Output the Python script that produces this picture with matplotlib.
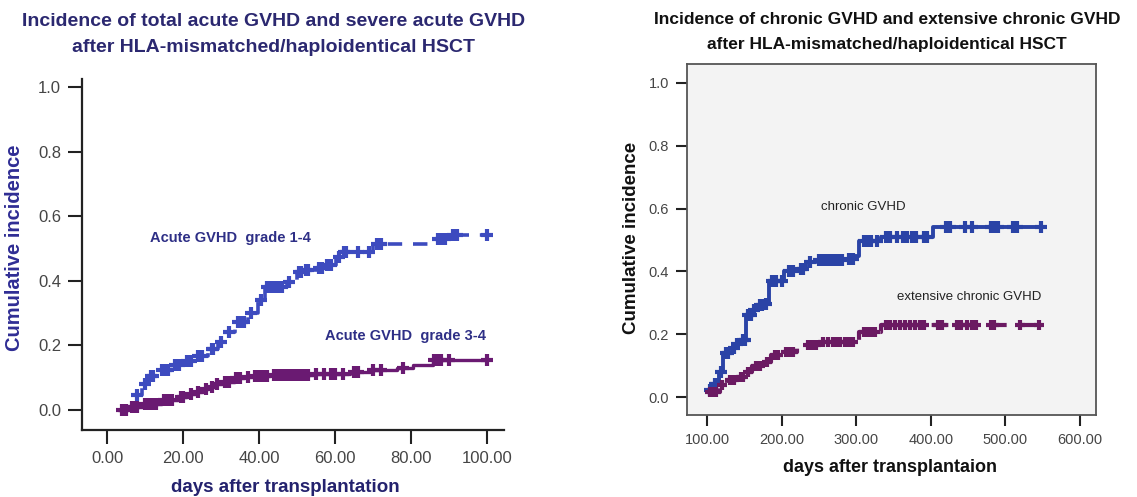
import numpy as np
import matplotlib
matplotlib.use("Agg")
import matplotlib.pyplot as plt

plt.rcParams['font.family'] = ['Liberation Sans', 'DejaVu Sans']

# ---- Acute GVHD (days 0-100) ----
acute_all_days = [4.5, 5.2, 7.4, 9.1, 10.9, 13.9, 17.0, 20.5, 23.2, 26.7, 29.3, 31.1, 33.7,
                  37.2, 39.8, 41.6, 47.3, 49.9, 51.7, 55.2, 57.4, 60.4, 61.8, 70.1, 85.9, 90.3]
acute_all_vals = [0.0, 0.01, 0.045, 0.08, 0.105, 0.125, 0.138, 0.152, 0.168, 0.19, 0.212, 0.24, 0.273,
                  0.30, 0.34, 0.382, 0.397, 0.428, 0.433, 0.439, 0.449, 0.475, 0.49, 0.513, 0.531, 0.542]
acute_all_censor = [8, 10, 11.5, 12, 14.5, 15.5, 16, 18, 19, 21, 22, 24, 25, 27.5, 28, 30, 32,
                    34.5, 35.5, 36, 38, 40.5, 42, 43, 44, 45, 46, 48, 50.5, 51, 52.5, 53, 55.8,
                    56.5, 58, 59, 61, 62.5, 63, 66, 69, 71, 72, 87, 88, 89, 91, 92, 100]

acute_sev_days = [3.0, 5.6, 9.1, 14.4, 18.8, 21.0, 23.2, 25.0, 26.7, 28.5, 30.2, 33.7, 36.0,
                  38.1, 43.0, 54.3, 64.0, 69.2, 76.2, 80.6, 85.9]
acute_sev_vals = [0.0, 0.01, 0.02, 0.03, 0.041, 0.049, 0.057, 0.065, 0.072, 0.08, 0.088, 0.098, 0.102,
                  0.105, 0.108, 0.111, 0.119, 0.124, 0.129, 0.139, 0.155]
acute_sev_censor = [4, 5, 6.5, 7, 8, 10, 11, 12, 13, 15, 16, 17, 19.5, 20, 22, 24, 26, 27.5, 29,
                    31, 32, 34, 35, 37, 39, 40, 41, 42, 44, 45, 46, 47, 48, 49, 50, 51, 52, 53,
                    55, 57, 59, 60, 62, 65, 66, 70, 72, 78, 86, 87, 88, 90, 100]

# ---- Chronic GVHD (days 100-550) ----
chronic_days = [100, 108, 115, 121, 133, 138, 144, 152, 160, 167, 176, 183, 203, 222, 232,
                245, 285, 298, 304, 333, 403]
chronic_vals = [0.022, 0.043, 0.08, 0.139, 0.155, 0.17, 0.181, 0.26, 0.276, 0.292, 0.297, 0.371,
                0.40, 0.408, 0.43, 0.435, 0.44, 0.448, 0.498, 0.509, 0.54]
chronic_censor = [103, 110, 112, 118, 125, 128, 135, 140, 147, 150, 155, 158, 163, 170, 173, 178,
                  186, 189, 192, 200, 210, 215, 225, 228, 238, 250, 255, 260, 265, 270, 275, 280,
                  290, 295, 310, 315, 320, 328, 340, 345, 355, 362, 368, 375, 380, 390, 395, 420,
                  425, 445, 455, 480, 485, 490, 510, 515, 548]

ext_days = [100, 117, 126, 140, 151, 160, 176, 185, 202, 220, 229, 250, 304, 333]
ext_vals = [0.017, 0.038, 0.054, 0.065, 0.08, 0.10, 0.112, 0.133, 0.144, 0.155, 0.165, 0.176,
            0.207, 0.229]
ext_censor = [103, 107, 112, 120, 130, 135, 145, 148, 155, 165, 170, 180, 190, 195, 205, 210, 215,
              235, 240, 245, 255, 262, 268, 272, 278, 285, 290, 295, 310, 315, 320, 325, 340, 345,
              352, 358, 365, 372, 378, 385, 390, 410, 415, 435, 440, 448, 455, 460, 480, 485, 520,
              545]

left_xticks = [0, 20, 40, 60, 80, 100]
right_xticks = [100, 200, 300, 400, 500, 600]
yticks = [0.0, 0.2, 0.4, 0.6, 0.8, 1.0]


def step_curve(ax, days, vals, censor, end_day, color, ls, lw, ms, mew):
    t = np.append(days, end_day)
    v = np.append(vals, vals[-1])
    ax.plot(t, v, drawstyle='steps-post', color=color, lw=lw, ls=ls,
            solid_capstyle='butt', dash_capstyle='butt')
    c = np.asarray(censor, dtype=float)
    idx = np.searchsorted(days, c, side='right') - 1
    cy = np.asarray(vals)[np.clip(idx, 0, None)]
    ax.plot(c, cy, ls='none', marker='+', color=color, ms=ms, mew=mew)


fig = plt.figure(figsize=(11.37, 4.97), dpi=100)
W, H = 1137.0, 497.0

# Left panel
axL = fig.add_axes([82 / W, 1 - 430 / H, (504 - 82) / W, (430 - 79) / H])
axL.set_xlim(-6.6, 104.5)
axL.set_ylim(-0.062, 1.025)
blue_l = '#3d4bbf'
purple_l = '#6a1a72'
step_curve(axL, acute_all_days, acute_all_vals, acute_all_censor, 100, blue_l,
           (0, (4, 3)), 2.6, 8, 3.0)
step_curve(axL, acute_sev_days, acute_sev_vals, acute_sev_censor, 100, purple_l,
           '-', 2.4, 8, 3.0)
for s in ['top', 'right']:
    axL.spines[s].set_visible(False)
for s in ['left', 'bottom']:
    axL.spines[s].set_linewidth(1.6)
    axL.spines[s].set_color('#222222')
axL.set_xticks(left_xticks)
axL.set_xticklabels(['%.2f' % v for v in left_xticks])
axL.set_yticks(yticks)
axL.set_yticklabels(['%.1f' % v for v in yticks])
axL.tick_params(direction='out', length=10, width=1.5, color='#222222',
                labelsize=12, labelcolor='#454545', pad=5)
axL.text(230 / W, 1 - 238 / H, 'Acute GVHD  grade 1-4', transform=fig.transFigure,
         ha='center', va='center', fontsize=10.5, fontweight='bold', color='#2e2f86')
axL.text(405 / W, 1 - 336 / H, 'Acute GVHD  grade 3-4', transform=fig.transFigure,
         ha='center', va='center', fontsize=10.5, fontweight='bold', color='#2e2f86')

# Right panel
axR = fig.add_axes([687 / W, 1 - 415 / H, (1096 - 687) / W, (415 - 64) / H])
axR.set_facecolor('#f3f3f3')
axR.set_xlim(72.5, 621.5)
axR.set_ylim(-0.057, 1.06)
blue_r = '#2a43a6'
purple_r = '#6b1a62'
step_curve(axR, chronic_days, chronic_vals, chronic_censor, 548, blue_r,
           '-', 2.8, 8, 3.0)
step_curve(axR, ext_days, ext_vals, ext_censor, 545, purple_r,
           (0, (4, 3)), 3.0, 7, 3.0)
for s in axR.spines.values():
    s.set_linewidth(1.3)
    s.set_color('#555555')
axR.set_xticks(right_xticks)
axR.set_xticklabels(['%.2f' % v for v in right_xticks])
axR.set_yticks(yticks)
axR.set_yticklabels(['%.1f' % v for v in yticks])
axR.tick_params(direction='out', length=8, width=1.5, color='#222222',
                labelsize=10.5, labelcolor='#454545', pad=5)
axR.text(863 / W, 1 - 207 / H, 'chronic GVHD', transform=fig.transFigure,
         ha='center', va='center', fontsize=9.5, color='#222222')
axR.text(969 / W, 1 - 297 / H, 'extensive chronic GVHD', transform=fig.transFigure,
         ha='center', va='center', fontsize=9.5, color='#222222')

# Titles and axis labels
navy = '#2b2870'
fig.text(274 / W, 1 - 21 / H, 'Incidence of total acute GVHD and severe acute GVHD',
         ha='center', va='center', fontsize=14, fontweight='bold', color=navy)
fig.text(274 / W, 1 - 48 / H, 'after HLA-mismatched/haploidentical HSCT',
         ha='center', va='center', fontsize=14, fontweight='bold', color=navy)
fig.text(887 / W, 1 - 20 / H, 'Incidence of chronic GVHD and extensive chronic GVHD',
         ha='center', va='center', fontsize=12.5, fontweight='bold', color='#111111')
fig.text(887 / W, 1 - 45 / H, 'after HLA-mismatched/haploidentical HSCT',
         ha='center', va='center', fontsize=12.5, fontweight='bold', color='#111111')

fig.text(15 / W, 1 - 248 / H, 'Cumulative incidence', rotation=90, ha='center', va='center',
         fontsize=14.5, fontweight='bold', color='#2f2d94')
fig.text(285 / W, 1 - 488 / H, 'days after transplantation', ha='center', va='center',
         fontsize=13.5, fontweight='bold', color='#24226e')
fig.text(631 / W, 1 - 238 / H, 'Cumulative incidence', rotation=90, ha='center', va='center',
         fontsize=13.5, fontweight='bold', color='#111111')
fig.text(890 / W, 1 - 467 / H, 'days after transplantaion', ha='center', va='center',
         fontsize=13, fontweight='bold', color='#111111')

fig.savefig('out.png', dpi=100)
